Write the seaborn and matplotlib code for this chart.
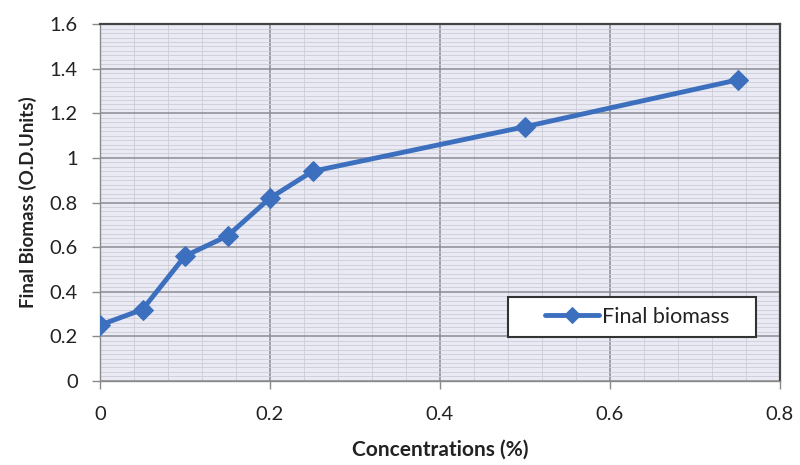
import numpy as np
import pandas as pd
import matplotlib
matplotlib.use("Agg")
import matplotlib.pyplot as plt
from matplotlib.patches import Rectangle
from matplotlib.ticker import MultipleLocator
import seaborn as sns

# Final biomass measured at each concentration
concentrations = [0.0, 0.05, 0.10, 0.15, 0.20, 0.25, 0.50, 0.75]
final_biomass = [0.25, 0.32, 0.56, 0.65, 0.82, 0.94, 1.14, 1.35]
x_ticks = [0, 0.2, 0.4, 0.6, 0.8]
x_tick_labels = ["0", "0.2", "0.4", "0.6", "0.8"]
y_ticks = [0, 0.2, 0.4, 0.6, 0.8, 1.0, 1.2, 1.4, 1.6]
y_tick_labels = ["0", "0.2", "0.4", "0.6", "0.8", "1", "1.2", "1.4", "1.6"]

df = pd.DataFrame({"Concentration": concentrations, "Final biomass": final_biomass})

sns.set_theme(style="white")
plt.rcParams["font.family"] = ["Lato", "DejaVu Sans"]

fig = plt.figure(figsize=(8, 4.65), dpi=100)
ax = fig.add_axes([0.125, 0.181, 0.85, 0.767])
ax.set_facecolor("#eaeaf4")

line_color = "#3c6fbe"
sns.lineplot(data=df, x="Concentration", y="Final biomass", ax=ax,
             color=line_color, linewidth=3.5, marker="D", markersize=10,
             markeredgecolor=line_color, label="Final biomass", zorder=3)

ax.set_xlim(0, 0.8)
ax.set_ylim(0, 1.6)
ax.set_xticks(x_ticks)
ax.set_xticklabels(x_tick_labels)
ax.set_yticks(y_ticks)
ax.set_yticklabels(y_tick_labels)
ax.xaxis.set_minor_locator(MultipleLocator(0.04))
ax.yaxis.set_minor_locator(MultipleLocator(0.02))

ax.grid(which="major", color="#8c8c94", linewidth=1.1, zorder=0)
ax.grid(which="minor", color="#cdcdd8", linewidth=0.6, zorder=0)
ax.set_axisbelow(True)

for side in ["left", "bottom"]:
    ax.spines[side].set_color("#8a8a8a")
    ax.spines[side].set_linewidth(1.0)
for side in ["top", "right"]:
    ax.spines[side].set_color("#444444")
    ax.spines[side].set_linewidth(1.6)

ax.tick_params(axis="both", which="major", direction="out", length=6,
               width=1, color="#8a8a8a", labelsize=14.5, labelcolor="#222222",
               bottom=True, left=True)
ax.tick_params(axis="x", which="major", pad=12)
ax.tick_params(axis="y", which="major", pad=10)
ax.tick_params(which="minor", length=0)

ax.set_xlabel("Concentrations (%)", fontsize=15, fontweight="bold",
              color="#222222", labelpad=12)
ax.set_ylabel("Final Biomass (O.D.Units)", fontsize=13.5, fontweight="bold",
              color="#222222", labelpad=9)

# Legend box with a frameless legend centred inside it
box_x, box_y, box_w, box_h = 0.600, 0.123, 0.365, 0.112
ax.add_patch(Rectangle((box_x, box_y), box_w, box_h, transform=ax.transAxes,
                       facecolor="white", edgecolor="#333333", linewidth=1.5,
                       zorder=5))
leg = ax.legend(loc="center", bbox_to_anchor=(box_x + box_w / 2 + 0.008, box_y + box_h / 2),
                fontsize=15.5, frameon=False, handlelength=2.5,
                handletextpad=0.15, borderpad=0.0)
leg.set_zorder(6)
for t in leg.get_texts():
    t.set_color("#222222")
for h in leg.get_lines():
    h.set_markersize(8)

fig.savefig("out.png", dpi=100, facecolor="white")
